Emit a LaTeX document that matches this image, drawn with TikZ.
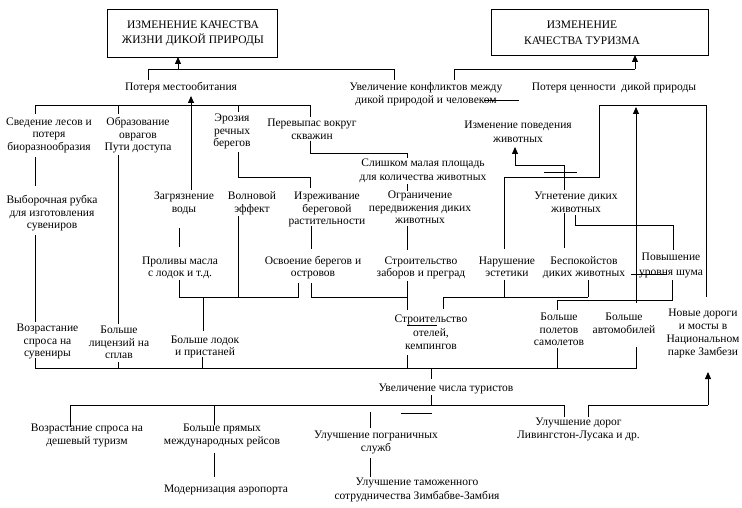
\documentclass[tikz,border=0pt]{standalone}
\usepackage{fontspec}
\setmainfont{Liberation Serif}
\usetikzlibrary{arrows.meta}
\newcommand\myfs[1]{\fontsize{11.5}{#1}\selectfont\lineskiplimit=-8pt\relax}
\begin{document}
\begin{tikzpicture}[x=1pt,y=-1pt,
  lbl/.style={align=center, inner sep=0pt, font=\myfs{12.5}, yshift=-1.5pt,
    execute at begin node=\strut, execute at end node=\strut},
  ln/.style={line width=0.9pt},
  arr/.style={line width=0.9pt,-{Triangle[width=6pt,length=7pt]}},
  frame/.style={draw, line width=0.9pt, inner sep=0pt}
]
\useasboundingbox (0,0) rectangle (742,508);
\fill[white] (0,0) rectangle (742,508);

% title boxes
\node[frame, minimum width=170pt, minimum height=48pt] (boxW) at (192,33) {};
\node[lbl, font=\myfs{15}] (boxWtxt) at (193,33) {ИЗМЕНЕНИЕ КАЧЕСТВА\\ЖИЗНИ ДИКОЙ ПРИРОДЫ};
\node[frame, minimum width=217pt, minimum height=46pt] (boxT) at (599.5,32) {};
\node[lbl, font=\myfs{16.5}] (boxTtxt) at (582,33.5) {ИЗМЕНЕНИЕ\\КАЧЕСТВА ТУРИЗМА};

% labels
\node[lbl] (potMest) at (181,87) {Потеря местообитания};
\node[lbl] (konfl) at (426,93.5) {Увеличение конфликтов между\\дикой природой и человеком};
\node[lbl] (potCen) at (614,87) {Потеря ценности\ \ дикой природы};
\node[lbl] (sved) at (49,134.5) {Сведение лесов и\\потеря\\биоразнообразия};
\node[lbl] (obraz) at (138,134.5) {Образование\\оврагов\\Пути доступа};
\node[lbl] (eroz) at (232,131) {Эрозия\\речных\\берегов};
\node[lbl] (perev) at (312,129.5) {Перевыпас вокруг\\скважин};
\node[lbl, font=\myfs{13.5}] (malo) at (423,170) {Слишком малая площадь\\для количества животных};
\node[lbl] (ogran) at (420,208) {Ограничение\\передвижения диких\\животных};
\node[lbl] (zagr) at (184,202.5) {Загрязнение\\воды};
\node[lbl] (voln) at (252,202.5) {Волновой\\эффект};
\node[lbl] (izrezh) at (327,209) {Изреживание\\береговой\\растительности};
\node[lbl] (vyb) at (52,212.5) {Выборочная рубка\\для изготовления\\сувениров};
\node[lbl] (proliv) at (180,267) {Проливы масла\\с лодок и т.д.};
\node[lbl] (osvo) at (313,267) {Освоение берегов и\\островов};
\node[lbl] (zabor) at (421,267) {Строительство\\заборов и преград};
\node[lbl] (narush) at (507,267) {Нарушение\\эстетики};
\node[lbl] (bespok) at (584,267) {Беспокойстов\\диких животных};
\node[lbl, font=\myfs{15}] (shum) at (671,264.5) {Повышение\\уровня шума};
\node[lbl] (ugnet) at (576,202.5) {Угнетение диких\\животных};
\node[lbl, font=\myfs{14}] (povedu) at (518,132) {Изменение поведения\\животных};
\node[lbl] (suvenir) at (47.5,341) {Возрастание\\спроса на\\сувениры};
\node[lbl] (licenz) at (119,343) {Больше\\лицензий на\\сплав};
\node[lbl] (lodok) at (205,346) {Больше лодок\\и пристаней};
\node[lbl, font=\myfs{13.5}] (oteli) at (431,333) {Строительство\\отелей,\\кемпингов};
\node[lbl] (polet) at (559,330) {Больше\\полетов\\самолетов};
\node[lbl] (avto) at (624,323.5) {Больше\\автомобилей};
\node[lbl, font=\myfs{13}] (dorogi) at (703,332.5) {Новые дороги\\и мосты в\\Национальном\\парке Замбези};
\node[lbl] (turist) at (446,387) {Увеличение числа туристов};
\node[lbl] (deshev) at (87,434.5) {Возрастание спроса на\\дешевый туризм};
\node[lbl] (reys) at (222,434.5) {Больше прямых\\международных рейсов};
\node[lbl] (granic) at (376,441.5) {Улучшение пограничных\\служб};
\node[lbl] (ulDor) at (578.5,428.5) {Улучшение дорог\\Ливингстон-Лусака и др.};
\node[lbl] (aero) at (226,488) {Модернизация аэропорта};
\node[lbl, font=\myfs{14}] (tamozh) at (417,489) {Улучшение таможенного\\сотрудничества Зимбабве-Замбия};

% top connectors
\draw[ln] (148,80) -- (148,69) -- (394,69) -- (394,80);
\draw[arr] (178,69) -- (178,57);
\draw[ln] (454,80) -- (454,69) -- (635,69);
\draw[arr] (635,69) -- (635,55);
\draw[ln] (484,100) -- (519,100);

% habitat loss tree
\draw[ln] (35,114) -- (35,105) -- (310,105) -- (310,117);
\draw[ln] (118,105) -- (118,114);
\draw[ln] (238,105) -- (238,112);
\draw[arr] (191,190) -- (191,96);
\draw[ln] (35,157) -- (35,186);
\draw[ln] (118,155) -- (118,324);
\draw[ln] (35,235) -- (35,322);
\draw[ln] (238,152) -- (238,177) -- (310,177) -- (310,188);
\draw[ln] (310,141) -- (310,153) -- (407,153) -- (407,158);
\draw[ln] (407,184) -- (407,191);
\draw[ln] (407,226) -- (407,250);
\draw[ln] (179,228) -- (179,247);
\draw[ln] (238,216) -- (238,297);
\draw[ln] (311,226) -- (311,249);
\draw[ln] (179,280) -- (179,297) -- (298,297) -- (298,283);
\draw[ln] (203,297) -- (203,331);
\draw[ln] (311,283) -- (311,297) -- (407,297);
\draw[ln] (407,281) -- (407,310);
\draw[ln] (407,325) -- (437,325);

% right part
\draw[ln] (504,280) -- (504,297);
\draw[ln] (588,280) -- (588,297);
\draw[ln] (443,309) -- (443,297) -- (588,297);
\draw[ln] (504,249) -- (504,177) -- (599,177) -- (599,105) -- (706,105) -- (706,297);
\draw[arr] (636,303) -- (636,107);
\draw[ln] (564,190) -- (564,165) -- (515,165);
\draw[arr] (515,165) -- (515,147);
\draw[ln] (544,172) -- (577,172);
\draw[ln] (564,213) -- (564,248);
\draw[ln] (575,215) -- (575,225) -- (673,225) -- (673,250);
\draw[ln] (631,274) -- (666,274);
\draw[ln] (672,280) -- (672,300) -- (557,300) -- (557,310);

% collection line
\draw[ln] (35,358) -- (35,368) -- (636,368) -- (636,347);
\draw[ln] (118,362) -- (118,368);
\draw[ln] (202,357) -- (202,368);
\draw[ln] (407,355) -- (407,368);
\draw[ln] (557,348) -- (557,368);
\draw[ln] (431,368) -- (431,379);

% tourists tree
\draw[ln] (431,395) -- (431,405);
\draw[ln] (70,427) -- (70,405) -- (564,405) -- (564,417);
\draw[ln] (214,405) -- (214,425);
\draw[ln] (588,417) -- (588,405) -- (708,405);
\draw[arr] (708,405) -- (708,372);
\draw[ln] (370,412) -- (370,428);
\draw[ln] (401,413) -- (432,413);
\draw[ln] (214,453) -- (214,477);
\draw[ln] (370,458) -- (370,477);
\end{tikzpicture}
\end{document}
